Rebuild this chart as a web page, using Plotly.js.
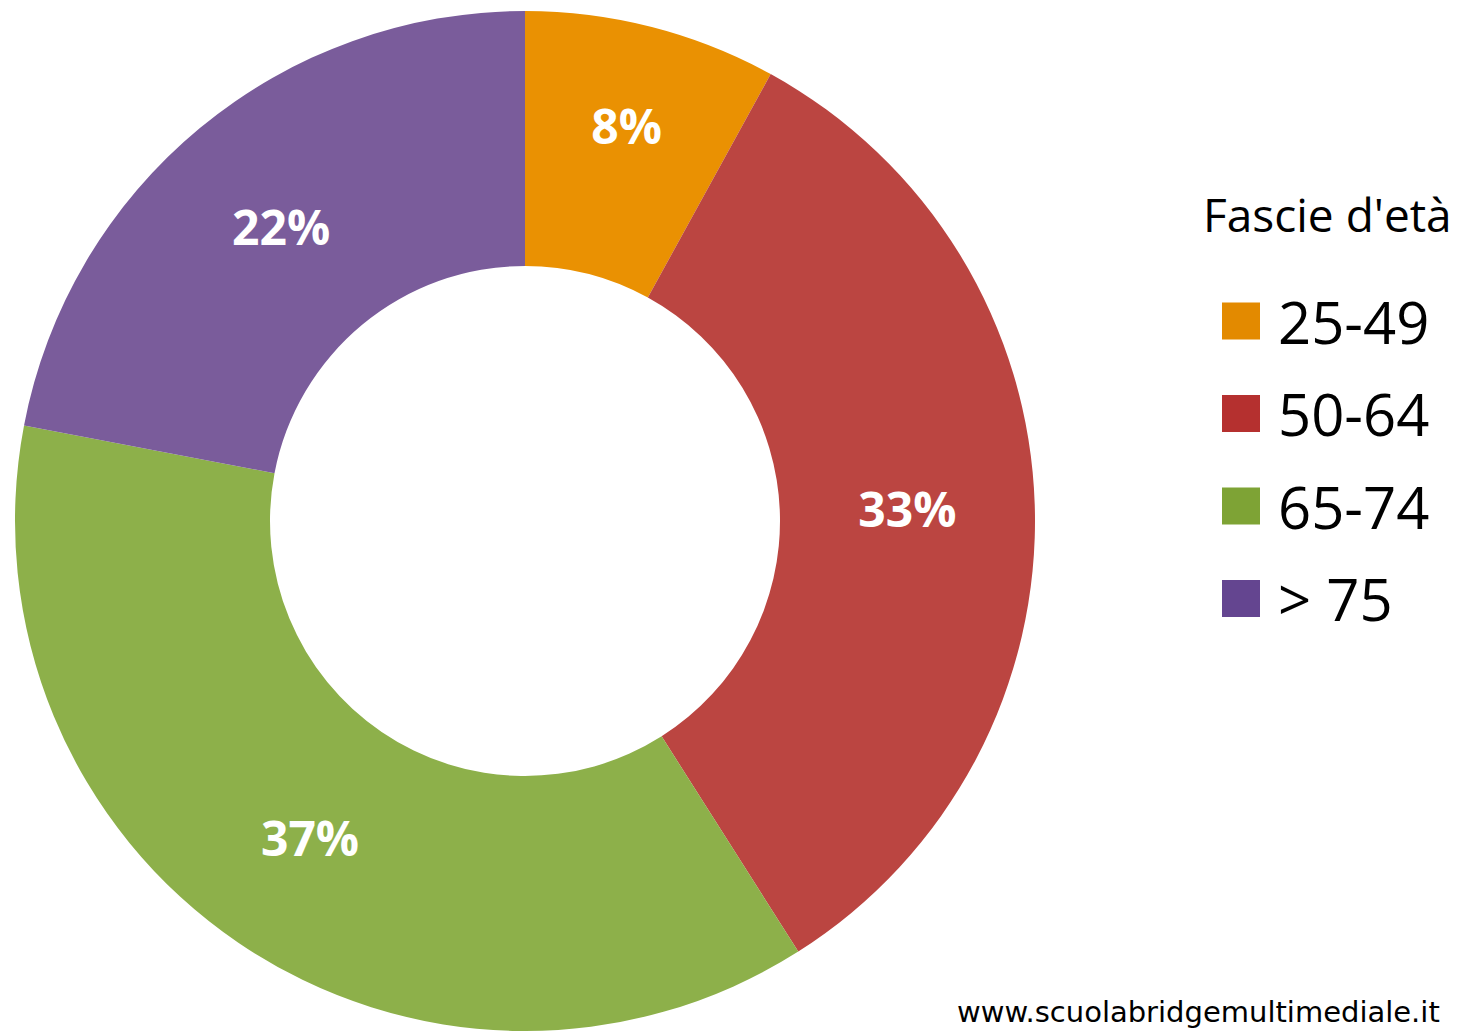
<!DOCTYPE html>
<html>
<head>
<meta charset="utf-8">
<script src="https://cdn.plot.ly/plotly-3.0.1.min.js"></script>
<style>
  html, body { margin: 0; padding: 0; background: #ffffff; }
  #chart { width: 1459px; height: 1031px; }
</style>
</head>
<body>
<div id="chart"></div>
<script>
// ---- data ----
const categories = ["25-49", "50-64", "65-74", "> 75"];
const values = [8, 33, 37, 22];
const sliceColors = ["#EA9102", "#BB4541", "#8DB04A", "#7A5C9B"];
const legendColors = ["#E38A00", "#B5302F", "#7EA335", "#644590"];
const legendTitle = "Fascie d'età";
const watermark = "www.scuolabridgemultimediale.it";

const W = 1459, H = 1031;
const px = x => x / W;
const py = y => 1 - y / H;

const trace = {
  type: "pie",
  labels: categories,
  values: values,
  sort: false,
  direction: "clockwise",
  rotation: 0,
  hole: 0.5,
  marker: { colors: sliceColors, line: { width: 0 } },
  texttemplate: "%{value}%",
  textposition: "inside",
  insidetextorientation: "horizontal",
  textfont: { family: "Open Sans", size: 48, color: "#ffffff", weight: "bold" },
  hoverinfo: "none",
  showlegend: false,
  domain: { x: [px(15), px(1035)], y: [py(1031), py(11)] }
};

const shapes = [];
const annotations = [];
const itemY0 = 321, itemStep = 92.5;
categories.forEach((c, i) => {
  const cy = itemY0 + i * itemStep;
  shapes.push({
    type: "rect", xref: "paper", yref: "paper",
    x0: px(1222), x1: px(1260), y0: py(cy - 18.5), y1: py(cy + 18.5),
    fillcolor: legendColors[i], line: { width: 0 }
  });
  annotations.push({
    xref: "paper", yref: "paper", x: px(1276), y: py(cy),
    xanchor: "left", yanchor: "middle", showarrow: false,
    text: c, font: { family: "Open Sans", size: 58, color: "#000000" }
  });
});
annotations.push({
  xref: "paper", yref: "paper", x: px(1201), y: py(214),
  xanchor: "left", yanchor: "middle", showarrow: false,
  text: legendTitle, font: { family: "Open Sans", size: 46, color: "#000000" }
});
annotations.push({
  xref: "paper", yref: "paper", x: px(1442), y: py(1031),
  xanchor: "right", yanchor: "bottom", showarrow: false,
  text: watermark, font: { family: "DejaVu Sans", size: 29, color: "#000000" }
});

const layout = {
  width: W, height: H,
  margin: { l: 0, r: 0, t: 0, b: 0 },
  paper_bgcolor: "#ffffff",
  plot_bgcolor: "#ffffff",
  showlegend: false,
  shapes: shapes,
  annotations: annotations
};

Plotly.newPlot("chart", [trace], layout, { displayModeBar: false, staticPlot: true });
</script>
</body>
</html>
